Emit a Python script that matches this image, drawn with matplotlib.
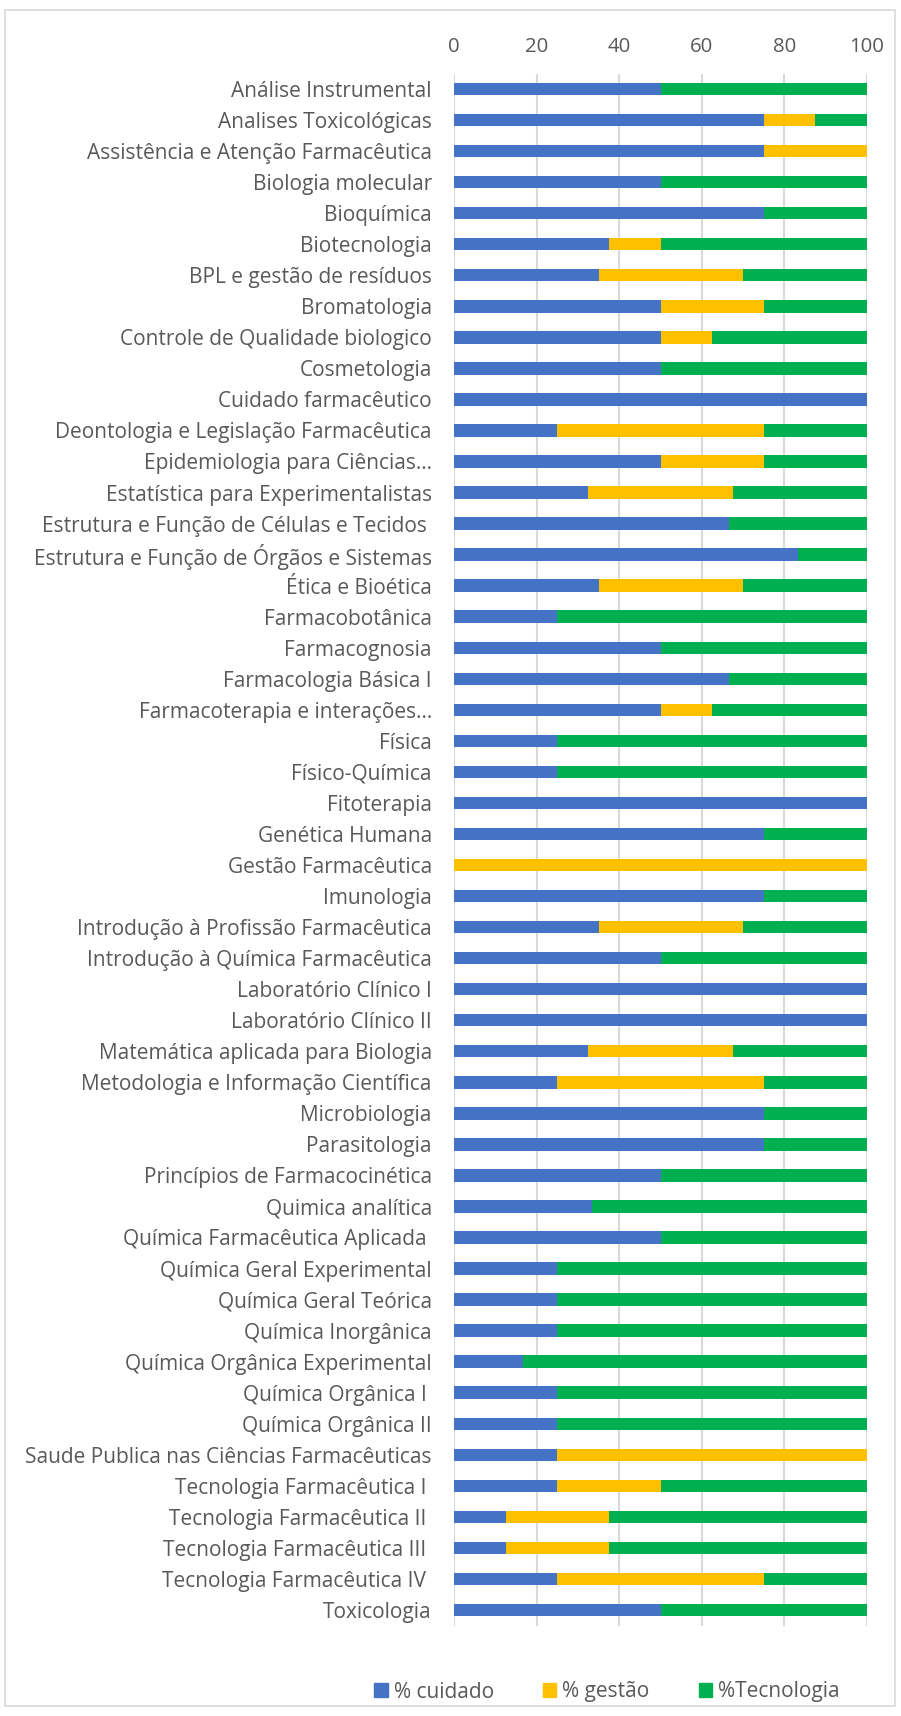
import matplotlib
matplotlib.use('Agg')
import numpy as np
from matplotlib import pyplot as plt
from matplotlib.patches import Patch, Rectangle

# Dados (percentual por disciplina)
disciplinas = [
    'Análise Instrumental', 'Analises Toxicológicas', 'Assistência e Atenção Farmacêutica',
    'Biologia molecular', 'Bioquímica', 'Biotecnologia', 'BPL e gestão de resíduos',
    'Bromatologia', 'Controle de Qualidade biologico', 'Cosmetologia', 'Cuidado farmacêutico',
    'Deontologia e Legislação Farmacêutica', 'Epidemiologia para Ciências…',
    'Estatística para Experimentalistas', 'Estrutura e Função de Células e Tecidos ',
    'Estrutura e Função de Órgãos e Sistemas', 'Ética e Bioética', 'Farmacobotânica',
    'Farmacognosia', 'Farmacologia Básica I', 'Farmacoterapia e interações…', 'Física',
    'Físico-Química', 'Fitoterapia', 'Genética Humana', 'Gestão Farmacêutica', 'Imunologia',
    'Introdução à Profissão Farmacêutica', 'Introdução à Química Farmacêutica',
    'Laboratório Clínico I', 'Laboratório Clínico II', 'Matemática aplicada para Biologia',
    'Metodologia e Informação Científica', 'Microbiologia', 'Parasitologia',
    'Princípios de Farmacocinética', 'Quimica analítica', 'Química Farmacêutica Aplicada ',
    'Química Geral Experimental', 'Química Geral Teórica', 'Química Inorgânica',
    'Química Orgânica Experimental', 'Química Orgânica I ', 'Química Orgânica II',
    'Saude Publica nas Ciências Farmacêuticas', 'Tecnologia Farmacêutica I ',
    'Tecnologia Farmacêutica II ', 'Tecnologia Farmacêutica III ', 'Tecnologia Farmacêutica IV ',
    'Toxicologia',
]
cuidado = [50, 75, 75, 50, 75, 37.5, 35, 50, 50, 50, 100, 25, 50, 32.5, 66.7, 83.3, 35, 25,
           50, 66.7, 50, 25, 25, 100, 75, 0, 75, 35, 50, 100, 100, 32.5, 25, 75, 75, 50,
           33.3, 50, 25, 25, 25, 16.7, 25, 25, 25, 25, 12.5, 12.5, 25, 50]
gestao = [0, 12.5, 25, 0, 0, 12.5, 35, 25, 12.5, 0, 0, 50, 25, 35, 0, 0, 35, 0,
          0, 0, 12.5, 0, 0, 0, 0, 100, 0, 35, 0, 0, 0, 35, 50, 0, 0, 0,
          0, 0, 0, 0, 0, 0, 0, 0, 75, 25, 25, 25, 50, 0]
tecnologia = [50, 12.5, 0, 50, 25, 50, 30, 25, 37.5, 50, 0, 25, 25, 32.5, 33.3, 16.7, 30, 75,
              50, 33.3, 37.5, 75, 75, 0, 25, 0, 25, 30, 50, 0, 0, 32.5, 25, 25, 25, 50,
              66.7, 50, 75, 75, 75, 83.3, 75, 75, 0, 50, 62.5, 62.5, 25, 50]

series = ['% cuidado', '% gestão', '%Tecnologia']
cores = ['#4472C4', '#FFC000', '#00B050']
cinza = '#595959'

plt.rcParams['font.family'] = ['Open Sans', 'DejaVu Sans']

fig = plt.figure(figsize=(9.01, 17.16), dpi=100)
ax = fig.add_axes([454/901, 1 - 1625.5/1716, (867-454)/901, (1625.5-73.5)/1716])

y = np.arange(len(disciplinas))
esq = np.zeros(len(disciplinas))
for nome, vals, cor in zip(series, [cuidado, gestao, tecnologia], cores):
    vals = np.array(vals, dtype=float)
    ax.barh(y, vals, left=esq, height=0.4, color=cor, label=nome, zorder=3)
    esq += vals

ax.set_xlim(0, 100)
ax.set_ylim(len(disciplinas) - 0.5, -0.5)
ax.set_yticks(y)
ax.set_yticklabels(disciplinas, fontsize=15, color=cinza)
ax.set_xticks(np.arange(0, 101, 20))
ax.xaxis.tick_top()
ax.tick_params(axis='x', labelsize=14.7, colors=cinza, length=0, pad=12)
ax.tick_params(axis='y', length=0, pad=16)
ax.grid(axis='x', color='#D9D9D9', linewidth=1.5, zorder=0)
for s in ax.spines.values():
    s.set_visible(False)

handles = [Patch(color=c, label=n) for n, c in zip(series, cores)]
fig.legend(handles=handles, loc='center', bbox_to_anchor=(607/901, 1 - 1692/1716), ncol=3,
           frameon=False, fontsize=15, handlelength=0.64, handleheight=0.64,
           handletextpad=0.3, columnspacing=2.35, labelcolor=cinza)

fig.patches.append(Rectangle((5/901, 10/1716), 890/901, 1696/1716, transform=fig.transFigure,
                             fill=False, edgecolor='#D9D9D9', linewidth=1.2))

fig.savefig('out.png', dpi=100)
